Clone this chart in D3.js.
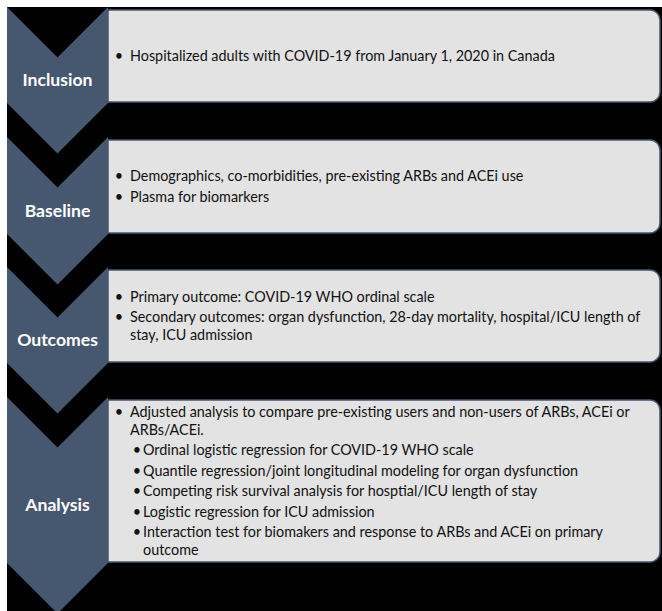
<!DOCTYPE html>
<html>
<head>
  <meta charset="UTF-8">
  <title>Study flow</title>
  <style>
    body { margin: 0; background: #fff; }
    svg { display: block; }
  </style>
</head>
<body>
  <div id="chart"></div>
  <script src="https://d3js.org/d3.v7.min.js"></script>
  <script>
    // stage names (left chevrons)
    const stages = ["Inclusion", "Baseline", "Outcomes", "Analysis"];

    // bullet paragraphs per stage: level 0 = main bullet, level 1 = sub bullet
    const inclusionItems = [
      { level: 0, lines: ["Hospitalized adults with COVID-19 from January 1, 2020 in Canada"] }
    ];
    const baselineItems = [
      { level: 0, lines: ["Demographics, co-morbidities, pre-existing ARBs and ACEi use"] },
      { level: 0, lines: ["Plasma for biomarkers"] }
    ];
    const outcomeItems = [
      { level: 0, lines: ["Primary outcome: COVID-19 WHO ordinal scale"] },
      { level: 0, lines: ["Secondary outcomes: organ dysfunction, 28-day mortality, hospital/ICU length of", "stay, ICU admission"] }
    ];
    const analysisItems = [
      { level: 0, lines: ["Adjusted analysis to compare pre-existing users and non-users of ARBs, ACEi or", "ARBs/ACEi."] },
      { level: 1, lines: ["Ordinal logistic regression for COVID-19 WHO scale"] },
      { level: 1, lines: ["Quantile regression/joint longitudinal modeling for organ dysfunction"] },
      { level: 1, lines: ["Competing risk survival analysis for hosptial/ICU length of stay"] },
      { level: 1, lines: ["Logistic regression for ICU admission"] },
      { level: 1, lines: ["Interaction test for biomakers and response to ARBs and ACEi on primary", "outcome"] }
    ];
    const items = [inclusionItems, baselineItems, outcomeItems, analysisItems];

    // layout
    const width = 662, height = 611;
    const left = 7, chevRight = 108, boxRight = 660;
    const boxTops = [10, 140, 270, 400];
    const boxBottoms = [102, 233, 362, 562];
    const depth = (chevRight - left) / 2;
    const lineGap = 18, paraGap = 20.5;
    const FONT = "Lato, 'Open Sans', sans-serif";
    const slate = "#46586f";

    const svg = d3.select("#chart").append("svg")
      .attr("width", width)
      .attr("height", height);

    svg.append("rect")
      .attr("x", left).attr("y", left)
      .attr("width", width - left).attr("height", height - left)
      .attr("fill", "#000");

    // scale font sizes so text widths match the picture
    function fitSize(text, weight, target) {
      const t = svg.append("text")
        .style("font-family", FONT).style("font-weight", weight)
        .style("font-size", "20px").text(text);
      const w = t.node().getComputedTextLength();
      t.remove();
      return 20 * target / w;
    }
    const bodySize = fitSize(inclusionItems[0].lines[0], 400, 425);
    const labelSize = fitSize("Inclusion", 700, 70);

    const g = svg.selectAll("g.stage")
      .data(stages)
      .enter()
      .append("g")
      .attr("class", "stage");

    // right hand boxes, square left side, rounded right side
    g.append("path")
      .attr("d", function (d, i) {
        const t = boxTops[i], b = boxBottoms[i], r = 10;
        const p = d3.path();
        p.moveTo(chevRight, t);
        p.lineTo(boxRight - r, t);
        p.arcTo(boxRight, t, boxRight, t + r, r);
        p.lineTo(boxRight, b - r);
        p.arcTo(boxRight, b, boxRight - r, b, r);
        p.lineTo(chevRight, b);
        p.closePath();
        return p.toString();
      })
      .attr("fill", "#e3e3e3")
      .attr("stroke", slate)
      .attr("stroke-width", 1.5);

    // chevrons
    g.append("path")
      .attr("d", function (d, i) {
        const t = boxTops[i] - 3, b = boxBottoms[i] + 1, mid = (left + chevRight) / 2;
        return "M" + left + "," + t + "L" + mid + "," + (t + depth) + "L" + chevRight + "," + t +
          "L" + chevRight + "," + b + "L" + mid + "," + (b + depth) + "L" + left + "," + b + "Z";
      })
      .attr("fill", slate);

    g.append("text")
      .attr("x", (left + chevRight) / 2)
      .attr("y", function (d, i) { return (boxTops[i] - 3 + depth + boxBottoms[i] + 1) / 2; })
      .attr("dy", "0.35em")
      .attr("text-anchor", "middle")
      .style("font-family", FONT)
      .style("font-weight", 700)
      .style("font-size", labelSize + "px")
      .attr("fill", "#fff")
      .text(function (d) { return d; });

    // bullet text
    g.each(function (d, i) {
      const list = items[i];
      const rows = [];
      let y = 0;
      list.forEach(function (it, k) {
        if (k > 0) y += paraGap;
        it.lines.forEach(function (line, j) {
          if (j > 0) y += lineGap;
          rows.push({ text: line, level: it.level, first: j === 0, y: y });
        });
      });
      const mid = (boxTops[i] + boxBottoms[i]) / 2;
      const offset = mid - y / 2;
      const sel = d3.select(this).selectAll("g.row")
        .data(rows)
        .enter()
        .append("g")
        .attr("class", "row")
        .attr("transform", function (r) { return "translate(0," + (offset + r.y) + ")"; });

      sel.filter(function (r) { return r.first; })
        .append("text")
        .attr("x", function (r) { return r.level ? 137 : 119; })
        .attr("dy", "0.35em")
        .attr("text-anchor", "middle")
        .style("font-family", FONT)
        .style("font-size", bodySize + "px")
        .attr("fill", "#111")
        .text("\u2022");

      sel.append("text")
        .attr("x", function (r) { return r.level ? 143 : 130; })
        .attr("dy", "0.35em")
        .style("font-family", FONT)
        .style("font-size", bodySize + "px")
        .attr("fill", "#111")
        .text(function (r) { return r.text; });
    });
  </script>
</body>
</html>
